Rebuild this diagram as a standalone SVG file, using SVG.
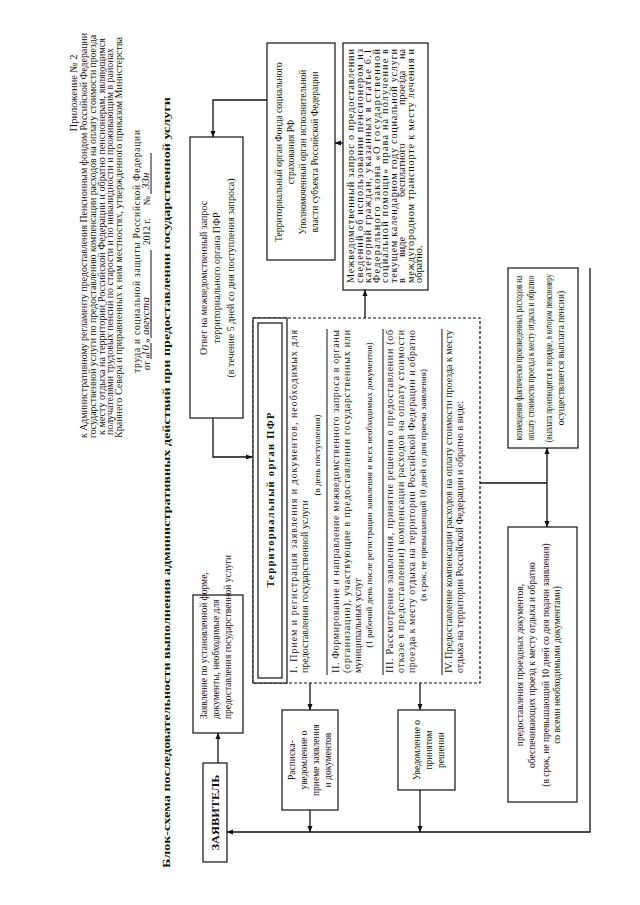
<svg xmlns="http://www.w3.org/2000/svg" width="640" height="905" viewBox="0 0 640 905">
<defs>
<marker id="ah" viewBox="0 0 10 10" refX="9.5" refY="5" markerWidth="5" markerHeight="5" orient="auto-start-reverse" markerUnits="strokeWidth"><path d="M0,1 L10,5 L0,9 z" fill="#111"/></marker>
<style>
text{font-family:"Liberation Serif","Times New Roman",serif;fill:#111;font-size:9.5px}
.b{font-weight:bold}
.m{text-anchor:middle}
.e{text-anchor:end}
.h{font-size:9.5px}
.s{font-size:10px}
.mv{font-size:10.3px}
.hw{font-style:italic;font-size:11px}
.box{fill:#fff;stroke:#111;stroke-width:1.2}
.dash{fill:none;stroke:#111;stroke-width:1.2;stroke-dasharray:3 2}
.ln{fill:none;stroke:#111;stroke-width:1.3}
.sep{stroke:#111;stroke-width:1}
</style>
</defs>
<rect width="640" height="905" fill="#fff"/>
<g transform="translate(0,905) rotate(-90)">
  <g id="header">
    <text x="812" y="77" class="m" style="font-size:10.5px">Приложение № 2</text>
    <text x="467" y="87" class="h" textLength="405" lengthAdjust="spacingAndGlyphs">к Административному регламенту предоставления Пенсионным фондом Российской Федерации</text>
    <text x="467" y="96" class="h" textLength="403" lengthAdjust="spacingAndGlyphs">государственной услуги по предоставлению компенсации расходов на оплату стоимости проезда</text>
    <text x="470" y="105" class="h" textLength="397" lengthAdjust="spacingAndGlyphs">к месту отдыха на территории Российской Федерации и обратно пенсионерам, являющимся</text>
    <text x="470" y="113" class="h" textLength="387" lengthAdjust="spacingAndGlyphs">получателями трудовых пенсий по старости и по инвалидности и проживающим в районах</text>
    <text x="467" y="122" class="h" textLength="401" lengthAdjust="spacingAndGlyphs">Крайнего Севера и приравненных к ним местностях, утвержденного приказом Министерства</text>
    <text x="532" y="140" class="h" textLength="243" lengthAdjust="spacing">труда и социальной защиты Российской Федерации</text>
    <text x="535" y="150" class="h">от «</text>
    <text x="549" y="149" class="hw">10</text>
    <text x="562" y="150" class="h">»</text>
    <text x="570" y="149" class="hw">августа</text>
    <text x="660" y="150" class="h">2012 г.</text>
    <text x="700" y="150" class="h">№</text>
    <text x="716" y="149" class="hw">33н</text>
    <line x1="546" y1="151" x2="562" y2="151" class="sep"/>
    <line x1="567" y1="151" x2="655" y2="151" class="sep"/>
    <line x1="711" y1="151" x2="752" y2="151" class="sep"/>
  </g>
  <g id="title">
    <text x="37" y="170" class="b" style="font-size:11px" textLength="771" lengthAdjust="spacingAndGlyphs">Блок-схема последовательности выполнения административных действий при предоставлении государственной услуги</text>
  </g>

  <g id="connectors">
    <path class="ln" d="M142,218 H172" marker-end="url(#ah)"/>
    <path class="ln" d="M805,267 V213 H768" marker-end="url(#ah)"/>
    <path class="ln" d="M762,343 V335" marker-end="url(#ah)"/>
    <path class="ln" d="M587,365 H615" marker-end="url(#ah)"/>
    <path class="ln" d="M487,213 H448 V252" marker-end="url(#ah)"/>
    <path class="ln" d="M222,310 H195" marker-end="url(#ah)"/>
    <path class="ln" d="M222,420 H195" marker-end="url(#ah)"/>
    <path class="ln" d="M95,310 H73" marker-end="url(#ah)"/>
    <path class="ln" d="M115,420 H73" marker-end="url(#ah)"/>
    <path class="ln" d="M637,590 H73 V227" marker-end="url(#ah)"/>
    <path class="ln" d="M422,480 V547"/>
    <path class="ln" d="M422,547 H457" marker-end="url(#ah)"/>
    <path class="ln" d="M422,547 H378" marker-end="url(#ah)"/>
  </g>

  <g id="zayavitel">
    <rect class="box" x="43" y="203" width="99" height="24"/>
    <text x="92.5" y="219" class="m b" style="font-size:10.5px" textLength="76" lengthAdjust="spacingAndGlyphs">ЗАЯВИТЕЛЬ</text>
  </g>
  <g id="zayavlenie">
    <rect class="box" x="172" y="193" width="138" height="50"/>
    <text x="186" y="207">Заявление по установленной форме,</text>
    <text x="186" y="219">документы, необходимые для</text>
    <text x="186" y="231">предоставления государственной услуги</text>
  </g>
  <g id="otvet">
    <rect class="box" x="487" y="190" width="281" height="53"/>
    <text x="627" y="207" class="m s">Ответ на межведомственный запрос</text>
    <text x="627" y="220" class="m s">территориального органа ПФР</text>
    <text x="627" y="234" class="m s">(в течение 5 дней со дня поступления запроса)</text>
  </g>
  <g id="fss">
    <rect class="box" x="645" y="267" width="217" height="68"/>
    <text x="753" y="282" class="m">Территориальный орган Фонда социального</text>
    <text x="753" y="294" class="m">страхования РФ</text>
    <text x="753" y="306" class="m">Уполномоченный орган исполнительной</text>
    <text x="753" y="318" class="m">власти субъекта Российской Федерации</text>
  </g>
  <g id="mezhved">
    <rect class="box" x="615" y="343" width="247" height="85"/>
    <text x="622" y="354" class="mv" textLength="234" lengthAdjust="spacing">Межведомственный запрос о предоставлении</text>
    <text x="622" y="362.5" class="mv" textLength="234" lengthAdjust="spacing">сведений об использовании пенсионером из</text>
    <text x="622" y="371" class="mv" textLength="234" lengthAdjust="spacing">категорий граждан, указанных в статье 6.1</text>
    <text x="622" y="379.5" class="mv" textLength="234" lengthAdjust="spacing">Федерального закона «О государственной</text>
    <text x="622" y="388" class="mv" textLength="234" lengthAdjust="spacing">социальной помощи» права на получение в</text>
    <text x="622" y="396.5" class="mv" textLength="234" lengthAdjust="spacing">текущем календарном году социальной услуги</text>
    <text x="622" y="405" class="mv">в</text>
    <text x="648" y="405" class="mv">виде</text>
    <text x="708" y="405" class="mv">бесплатного</text>
    <text x="800" y="405" class="mv">проезда</text>
    <text x="856" y="405" class="mv e">на</text>
    <text x="622" y="413.5" class="mv" textLength="234" lengthAdjust="spacing">междугородном транспорте к месту лечения и</text>
    <text x="622" y="422" class="mv">обратно.</text>
  </g>
  <g id="pfr">
    <rect class="dash" x="222" y="253" width="365" height="227"/>
    <rect class="box" x="222" y="253" width="365" height="34"/>
    <rect class="box" x="227" y="258" width="355" height="24"/>
    <text x="405" y="274" class="m b" style="font-size:10.5px" textLength="175" lengthAdjust="spacing">Территориальный орган ПФР</text>
    <text x="232" y="297" class="s" textLength="343" lengthAdjust="spacing">I. Прием и регистрация заявления и документов, необходимых для</text>
    <text x="232" y="308" class="s">предоставления государственной услуги</text>
    <text x="450" y="320" class="m" style="font-size:9px">(в день поступления)</text>
    <line class="sep" x1="230" y1="327" x2="576" y2="327"/>
    <text x="232" y="339" class="s" textLength="343" lengthAdjust="spacing">II. Формирование и направление межведомственного запроса в органы</text>
    <text x="232" y="350" class="s" textLength="343" lengthAdjust="spacing">(организации), участвующие в предоставлении государственных или</text>
    <text x="232" y="361" class="s">муниципальных услуг</text>
    <text x="410" y="372" class="m" style="font-size:9px">(1 рабочий день после регистрации заявления и всех необходимых документов)</text>
    <line class="sep" x1="230" y1="383" x2="576" y2="383"/>
    <text x="232" y="393" class="s" textLength="343" lengthAdjust="spacing">III. Рассмотрение заявления, принятие решения о предоставлении (об</text>
    <text x="232" y="404" class="s" textLength="343" lengthAdjust="spacing">отказе в предоставлении) компенсации расходов на оплату стоимости</text>
    <text x="232" y="415" class="s" textLength="343" lengthAdjust="spacing">проезда к месту отдыха на территории Российской Федерации и обратно</text>
    <text x="420" y="426" class="m" style="font-size:9px">(в срок, не превышающий 10 дней со дня приема заявления)</text>
    <line class="sep" x1="230" y1="442" x2="576" y2="442"/>
    <text x="232" y="452" class="s" textLength="343" lengthAdjust="spacing">IV. Предоставление компенсации расходов на оплату стоимости проезда к месту</text>
    <text x="232" y="463" class="s">отдыха на территории Российской Федерации и обратно в виде:</text>
  </g>
  <g id="raspiska">
    <rect class="box" x="95" y="282" width="100" height="56"/>
    <text x="145" y="295" class="m">Расписка-</text>
    <text x="145" y="307" class="m">уведомление о</text>
    <text x="145" y="319" class="m">приеме заявления</text>
    <text x="145" y="331" class="m">и документов</text>
  </g>
  <g id="uvedomlenie">
    <rect class="box" x="115" y="398" width="80" height="57"/>
    <text x="155" y="420" class="m">Уведомление  о</text>
    <text x="155" y="432" class="m">принятом</text>
    <text x="155" y="444" class="m">решении</text>
  </g>
  <g id="vozmeshchenie">
    <rect class="box" x="457" y="508" width="180" height="70"/>
    <text x="547" y="522" class="m" textLength="165" lengthAdjust="spacingAndGlyphs">возмещения фактически произведенных расходов на</text>
    <text x="547" y="534" class="m" textLength="165" lengthAdjust="spacingAndGlyphs">оплату стоимости проезда к месту отдыха и обратно</text>
    <text x="547" y="552" class="m" textLength="168" lengthAdjust="spacingAndGlyphs">(выплата производится в порядке, в котором пенсионеру</text>
    <text x="547" y="564" class="m">осуществляется выплата пенсии)</text>
  </g>
  <g id="proezdnye">
    <rect class="box" x="103" y="508" width="275" height="69"/>
    <text x="240" y="523" class="m">предоставления проездных документов,</text>
    <text x="240" y="535" class="m">обеспечивающих проезд к месту отдыха и обратно</text>
    <text x="240" y="549" class="m">(в срок, не превышающий 10 дней со дня подачи заявления)</text>
    <text x="240" y="560" class="m">со всеми необходимыми документами)</text>
  </g>
</g>
</svg>
